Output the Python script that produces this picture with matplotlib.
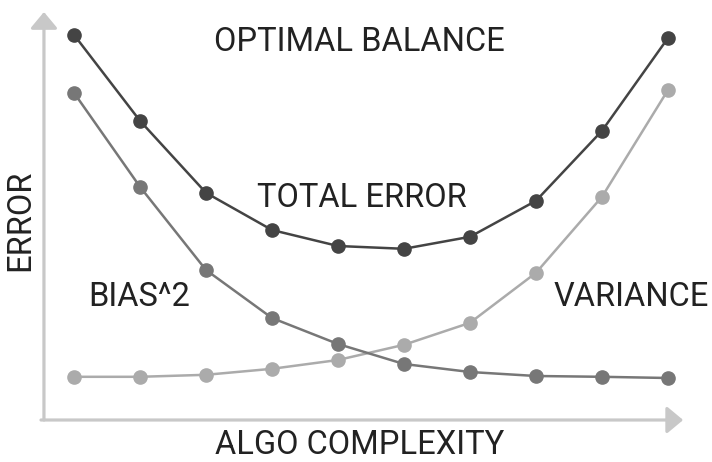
import matplotlib
matplotlib.use("Agg")
import matplotlib.pyplot as plt

# complexity steps and error values
complexity = [1, 2, 3, 4, 5, 6, 7, 8, 9, 10]
total_error = [9.63, 7.48, 5.68, 4.75, 4.35, 4.28, 4.58, 5.48, 7.23, 9.55]
bias_sq = [8.18, 5.83, 3.75, 2.55, 1.90, 1.40, 1.20, 1.10, 1.08, 1.05]
variance = [1.08, 1.08, 1.13, 1.28, 1.50, 1.88, 2.43, 3.68, 5.58, 8.25]

plt.rcParams['font.family'] = ['Roboto', 'DejaVu Sans']

fig = plt.figure(figsize=(7.12, 4.62), dpi=100)
ax = fig.add_axes([0, 0, 1, 1])
ax.set_xlim(-0.121, 10.667)
ax.set_ylim(-1.05, 10.5)
ax.axis('off')

# axes drawn as arrows
arrow = dict(arrowstyle='-|>,head_length=0.9,head_width=0.75', color='#c8c8c8',
             lw=2.3, mutation_scale=11, shrinkA=0, shrinkB=0)
ax.annotate('', xy=(0.545, 10.2), xytext=(0.545, 0), arrowprops=arrow)
ax.annotate('', xy=(10.23, 0), xytext=(0.5, 0), arrowprops=arrow)

ax.plot(complexity, variance, '-o', color='#ababab', lw=1.8, ms=9.5, zorder=3)
ax.plot(complexity, bias_sq, '-o', color='#777777', lw=1.8, ms=9.5, zorder=4)
ax.plot(complexity, total_error, '-o', color='#444444', lw=1.8, ms=9.5, zorder=5)

tc = '#222222'
fs = 23.5
ax.text(5.33, 9.45, 'OPTIMAL BALANCE', ha='center', va='center', fontsize=fs, color=tc)
ax.text(5.36, 5.55, 'TOTAL ERROR', ha='center', va='center', fontsize=fs, color=tc)
ax.text(1.99, 3.08, 'BIAS^2', ha='center', va='center', fontsize=fs, color=tc)
ax.text(9.45, 3.08, 'VARIANCE', ha='center', va='center', fontsize=fs, color=tc)
ax.text(0.18, 5.0, 'ERROR', ha='center', va='center', rotation=90, fontsize=fs, color=tc)
ax.text(5.33, -0.86, 'ALGO COMPLEXITY', ha='center', va='baseline', fontsize=fs, color=tc)

fig.savefig('out.png', dpi=100)
